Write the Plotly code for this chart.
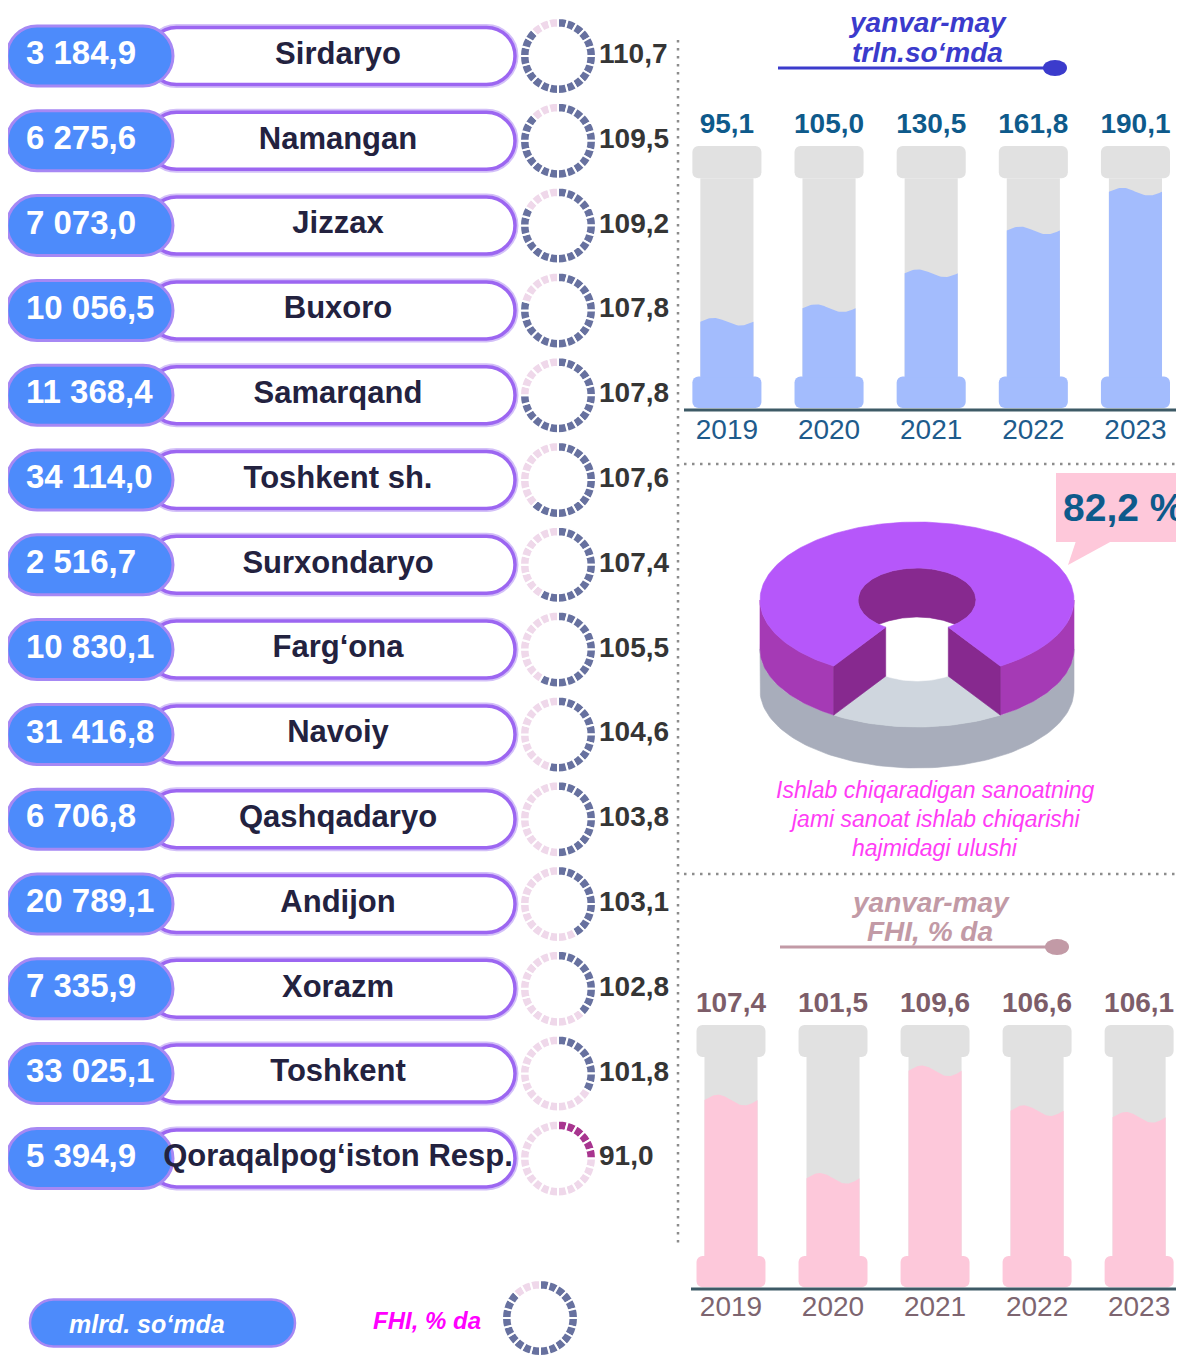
import numpy as np
import plotly.graph_objects as go

W, H = 1184, 1356
OFF = 8  # the page body margin shifts the figure by this many pixels
SANS = "Liberation Sans, Arial, sans-serif"

# --- data -------------------------------------------------------------------
regions = [
    "Sirdaryo", "Namangan", "Jizzax", "Buxoro", "Samarqand", "Toshkent sh.",
    "Surxondaryo", "Farg‘ona", "Navoiy", "Qashqadaryo", "Andijon", "Xorazm",
    "Toshkent", "Qoraqalpog‘iston Resp.",
]
volume_bln = [3184.9, 6275.6, 7073.0, 10056.5, 11368.4, 34114.0, 2516.7,
              10830.1, 31416.8, 6706.8, 20789.1, 7335.9, 33025.1, 5394.9]
growth_pct = [110.7, 109.5, 109.2, 107.8, 107.8, 107.6, 107.4,
              105.5, 104.6, 103.8, 103.1, 102.8, 101.8, 91.0]
ring_filled = [21, 21, 20, 19, 18, 15, 14, 14, 13, 12, 10, 9, 8, 6]
RING_SEGMENTS = 24
legend_filled = 21

years = ["2019", "2020", "2021", "2022", "2023"]
output_trln = [95.1, 105.0, 130.5, 161.8, 190.1]
fhi_pct = [107.4, 101.5, 109.6, 106.6, 106.1]
manufacturing_share = 82.2


def fmt_dec(v):
    return f"{v:.1f}".replace(".", ",")


def fmt_volume(v):
    return f"{v:,.1f}".replace(",", " ").replace(".", ",")


def pxx(x):
    return (x - OFF) / W


def pxy(y):
    return 1 - (y - OFF) / H


fig = go.Figure()
shapes = []
annotations = []


def note(x, y, text, size, color, **kw):
    annotations.append(dict(x=pxx(x), y=pxy(y), xref="paper", yref="paper", showarrow=False,
                            xanchor="center", yanchor="middle", text=text,
                            font=dict(family=SANS, size=size, color=color), **kw))


# --- left panel: region pills ----------------------------------------------
ROW_Y0, ROW_STEP = 56, 84.8
rows = list(range(len(regions)))


def row_px(i):
    return ROW_Y0 + i * ROW_STEP


def pill_path(x0, x1, h):
    r = h / 2
    k = 0.5523 * r
    return (f"M {x0 + r},{-r} L {x1 - r},{-r} "
            f"C {x1 - r + k},{-r} {x1},{-k} {x1},0 "
            f"C {x1},{k} {x1 - r + k},{r} {x1 - r},{r} "
            f"L {x0 + r},{r} "
            f"C {x0 + r - k},{r} {x0},{k} {x0},0 "
            f"C {x0},{-k} {x0 + r - k},{-r} {x0 + r},{-r} Z")


def pill(row, x0, x1, h, fill, line_color, line_width):
    return dict(type="path", xref="x4", yref="y4", ysizemode="pixel", yanchor=row,
                path=pill_path(x0, x1, h), fillcolor=fill,
                line=dict(color=line_color, width=line_width), layer="below")


for i in rows:
    shapes.append(pill(i, 148, 515, 57, "rgba(0,0,0,0)", "#d3c0f8", 7))
    shapes.append(pill(i, 148, 515, 57, "white", "#9c66f1", 3.5))
    shapes.append(pill(i, 7, 173, 60, "#4d8bfb", "#a688f4", 3))

fig.add_trace(go.Scatter(
    x=[26] * len(rows), y=rows, mode="text", text=[fmt_volume(v) for v in volume_bln],
    textposition="middle right", cliponaxis=False, hoverinfo="skip",
    textfont=dict(family=SANS, size=33, color="white", weight="bold"),
    xaxis="x4", yaxis="y4"))
fig.add_trace(go.Scatter(
    x=[338] * len(rows), y=rows, mode="text", text=regions,
    textposition="middle center", cliponaxis=False, hoverinfo="skip",
    textfont=dict(family=SANS, size=31, color="#23223f", weight="bold"),
    xaxis="x4", yaxis="y4"))
fig.add_trace(go.Scatter(
    x=[599] * len(rows), y=rows, mode="text", text=[fmt_dec(v) for v in growth_pct],
    textposition="middle right", cliponaxis=False, hoverinfo="skip",
    textfont=dict(family=SANS, size=28, color="#353535", weight="bold"),
    xaxis="x4", yaxis="y4"))


def ring(cx, cy, filled, on_color, r=38):
    colors = [on_color] * filled + ["#efd8ea"] * (RING_SEGMENTS - filled)
    return go.Pie(
        values=[1] * RING_SEGMENTS, sort=False, direction="clockwise", rotation=0,
        hole=0.75, textinfo="none", hoverinfo="skip", showlegend=False,
        marker=dict(colors=colors, line=dict(color="white", width=2)),
        domain=dict(x=[pxx(cx - r), pxx(cx + r)], y=[pxy(cy + r), pxy(cy - r)]))


for i, n_on in enumerate(ring_filled):
    on = "#a8358f" if growth_pct[i] < 100 else "#67719f"
    fig.add_trace(ring(558, row_px(i), n_on, on))

# legend
shapes.append(dict(type="path", xref="x4", yref="paper", ysizemode="pixel", yanchor=pxy(1323),
                   path=pill_path(30, 295, 47), fillcolor="#4d8bfb",
                   line=dict(color="#a688f4", width=2.5), layer="below"))
note(147, 1324, "<b><i>mlrd. so‘mda</i></b>", 25, "white")
note(427, 1320, "<b><i>FHI, % da</i></b>", 24, "#ff00ff")
fig.add_trace(ring(540, 1318, legend_filled, "#67719f"))

# --- pillar charts ------------------------------------------------------------
# y axis set by a pixel scale: value `ref_val` sits at pixel `ref_px`
TOP = dict(shaft=(55, 200), pedestal=32.1, capital=223.4, amp=2.8, baseline=30.6,
           ref_px=410, ref_val=30.6, scale=1.3687, px=(452, 100))
BOT = dict(shaft=(95.65, 110.65), pedestal=93.3, capital=113.06, amp=0.4, baseline=93.16,
           ref_px=1289, ref_val=93.16, scale=13.27, px=(1332, 980))
GRAY = "#e1e1e1"


def px_to_val(cfg, y):
    return cfg["ref_val"] + (cfg["ref_px"] - y) / cfg["scale"]


def y_range(cfg):
    return [px_to_val(cfg, cfg["px"][0]), px_to_val(cfg, cfg["px"][1])]


def add_pillars(values, xa, ya, cfg, fill_color, label_color, year_color, label_px, year_px):
    x = list(range(len(values)))
    lo, hi = cfg["shaft"]
    bar = dict(xaxis=xa, yaxis=ya, hoverinfo="skip", showlegend=False)
    fig.add_trace(go.Bar(x=x, y=[lo - cfg["pedestal"]] * len(x), base=cfg["pedestal"], width=0.676,
                         marker=dict(color=fill_color, cornerradius=6, line_width=0), **bar))
    fig.add_trace(go.Bar(x=x, y=[hi - lo] * len(x), base=lo, width=0.52,
                         marker=dict(color=GRAY, line_width=0), **bar))
    fig.add_trace(go.Bar(x=x, y=[cfg["capital"] - hi] * len(x), base=hi, width=0.676,
                         marker=dict(color=GRAY, cornerradius=6, line_width=0), **bar))
    # liquid level with a soft wave on top
    t = np.linspace(0, 1, 40)
    px_, py_ = [], []
    half = 0.26
    for i, v in enumerate(values):
        xs = i - half + t * 2 * half
        ys = v + cfg["amp"] * np.cos(2 * np.pi * (t - 0.25))
        px_ += list(xs) + [i + half, i - half, xs[0], None]
        py_ += list(ys) + [lo - 0.3 * cfg["amp"], lo - 0.3 * cfg["amp"], ys[0], None]
    fig.add_trace(go.Scatter(x=px_, y=py_, mode="lines", fill="toself", fillcolor=fill_color,
                             line=dict(width=0), **bar))
    fig.add_trace(go.Scatter(x=x, y=[px_to_val(cfg, label_px)] * len(x), mode="text",
                             text=[fmt_dec(v) for v in values], textposition="middle center",
                             cliponaxis=False,
                             textfont=dict(family=SANS, size=28, color=label_color, weight="bold"),
                             **bar))
    fig.add_trace(go.Scatter(x=x, y=[px_to_val(cfg, year_px)] * len(x), mode="text",
                             text=years, textposition="middle center", cliponaxis=False,
                             textfont=dict(family=SANS, size=28, color=year_color), **bar))
    shapes.append(dict(type="line", xref=f"{xa} domain", yref=ya, x0=0, x1=1,
                       y0=cfg["baseline"], y1=cfg["baseline"],
                       line=dict(color="#3d5a66", width=3)))


add_pillars(output_trln, "x", "y", TOP, "#a3bcfd", "#0e5a8b", "#1e5b8c", 126, 432)
add_pillars(fhi_pct, "x2", "y2", BOT, "#fdc8da", "#7d5d69", "#7d6570", 1005, 1309)


def title_block(cx, y1, y2, lines, color, ly, lx0, lx1):
    for y, txt in zip((y1, y2), lines):
        note(cx, y, f"<b><i>{txt}</i></b>", 28, color)
    shapes.append(dict(type="line", xref="paper", yref="paper", x0=pxx(lx0), x1=pxx(lx1),
                       y0=pxy(ly), y1=pxy(ly), line=dict(color=color, width=3)))
    shapes.append(dict(type="circle", xref="paper", yref="paper", x0=pxx(lx1 - 12), x1=pxx(lx1 + 12),
                       y0=pxy(ly + 8), y1=pxy(ly - 8), fillcolor=color, line=dict(width=0)))


title_block(927, 23, 53, ["yanvar-may", "trln.so‘mda"], "#3b3bcc", 68, 778, 1055)
title_block(930, 902, 931, ["yanvar-may", "FHI, % da"], "#c29aa6", 947, 780, 1057)

# --- 3D donut: share of manufacturing ------------------------------------------
DCX, D_TOP, D_MID, D_BOT = 917, 600, 649, 690
RX, RY, RIX, RIY = 157, 78, 59, 32


def ell(a, cy, rx, ry):
    return DCX + rx * np.cos(a), cy + ry * np.sin(a)


def poly(xs, ys, color):
    xs, ys = list(xs), list(ys)
    fig.add_trace(go.Scatter(x=xs + [xs[0]], y=ys + [ys[0]], mode="lines", fill="toself",
                             fillcolor=color, line=dict(color=color, width=0.6),
                             xaxis="x3", yaxis="y3", hoverinfo="skip", showlegend=False))


gap = (100 - manufacturing_share) / 100 * 2 * np.pi
a0, a1 = np.pi / 2 - gap / 2, np.pi / 2 + gap / 2

front = np.linspace(0, np.pi, 90)
ox1, oy1 = ell(front, D_MID, RX, RY)
ox2, oy2 = ell(front[::-1], D_BOT, RX, RY)
poly(np.r_[ox1, ox2], np.r_[oy1, oy2], "#a8adbb")

full = np.linspace(0, 2 * np.pi, 180)
poly(*ell(full, D_MID, RX, RY), "#cfd6de")
poly(*ell(full, D_MID, RIX, RIY), "white")

u = np.linspace(-1, 1, 121)
s = RIY * np.sqrt(1 - u ** 2)
bx = DCX + RIX * u
poly(np.r_[bx, bx[::-1]], np.r_[D_TOP - s, np.minimum(D_TOP + s, D_MID - s)[::-1]], "#87298f")

for seg in (np.linspace(a1, np.pi, 50), np.linspace(0, a0, 50)):
    tx, ty = ell(seg, D_TOP, RX, RY)
    bx2, by2 = ell(seg[::-1], D_MID, RX, RY)
    poly(np.r_[tx, bx2], np.r_[ty, by2], "#a53ab5")

for a in (a0, a1):
    ix, iy = ell(a, D_TOP, RIX, RIY)
    ox, oy = ell(a, D_TOP, RX, RY)
    ox_b, oy_b = ell(a, D_MID, RX, RY)
    ix_b, iy_b = ell(a, D_MID, RIX, RIY)
    poly([ix, ox, ox_b, ix_b], [iy, oy, oy_b, iy_b], "#87298f")

arc = np.linspace(a1, a0 + 2 * np.pi, 240)
tox, toy = ell(arc, D_TOP, RX, RY)
tix, tiy = ell(arc[::-1], D_TOP, RIX, RIY)
poly(np.r_[tox, tix], np.r_[toy, tiy], "#b657fa")

# callout
shapes.append(dict(type="rect", xref="x3", yref="y3", x0=1056, x1=1190, y0=473, y1=542,
                   fillcolor="#fec8da", line=dict(width=0)))
shapes.append(dict(type="path", xref="x3", yref="y3", path="M 1076,541 L 1112,541 L 1068,565 Z",
                   fillcolor="#fec8da", line=dict(width=0)))
annotations.append(dict(x=1061, y=507, xref="x3", yref="y3", xanchor="left", yanchor="middle",
                        showarrow=False, text=f"<b>{fmt_dec(manufacturing_share)} %</b>",
                        font=dict(family=SANS, size=39, color="#0e5a8b")))
caption = ["Ishlab chiqaradigan sanoatning", "jami sanoat ishlab chiqarishi", "hajmidagi ulushi"]
for k, line in enumerate(caption):
    note(935, 790 + 29 * k, f"<i>{line}</i>", 23, "#ff3cf5")

# dotted dividers
dot = dict(color="#8c8c8c", width=2.5, dash="2.5px,5.5px")
shapes.append(dict(type="line", xref="paper", yref="paper", x0=pxx(678), x1=pxx(678),
                   y0=pxy(40), y1=pxy(1245), line=dot))
for yy in (464, 874):
    shapes.append(dict(type="line", xref="paper", yref="paper", x0=pxx(684), x1=1,
                       y0=pxy(yy), y1=pxy(yy), line=dot))

hidden = dict(visible=False, fixedrange=True)

fig.update_layout(
    width=W, height=H, margin=dict(l=0, r=0, t=0, b=0),
    paper_bgcolor="white", plot_bgcolor="rgba(0,0,0,0)",
    showlegend=False, barmode="overlay",
    xaxis=dict(domain=[pxx(684), pxx(1180)], range=[-0.42, 4.436], **hidden),
    yaxis=dict(domain=[pxy(TOP["px"][0]), pxy(TOP["px"][1])], range=y_range(TOP), **hidden),
    xaxis2=dict(domain=[pxx(691), pxx(1184)], range=[-0.392, 4.44], **hidden),
    yaxis2=dict(domain=[pxy(BOT["px"][0]), pxy(BOT["px"][1])], range=y_range(BOT), **hidden),
    xaxis3=dict(domain=[pxx(680), pxx(1184)], range=[680, 1184], **hidden),
    yaxis3=dict(domain=[pxy(874), pxy(464)], range=[874, 464], **hidden),
    xaxis4=dict(domain=[0, pxx(680)], range=[OFF, 680], **hidden),
    yaxis4=dict(domain=[0, 1], range=[(H + OFF - ROW_Y0) / ROW_STEP, (OFF - ROW_Y0) / ROW_STEP],
                **hidden),
    shapes=shapes, annotations=annotations,
)

fig.write_html("out.html")
